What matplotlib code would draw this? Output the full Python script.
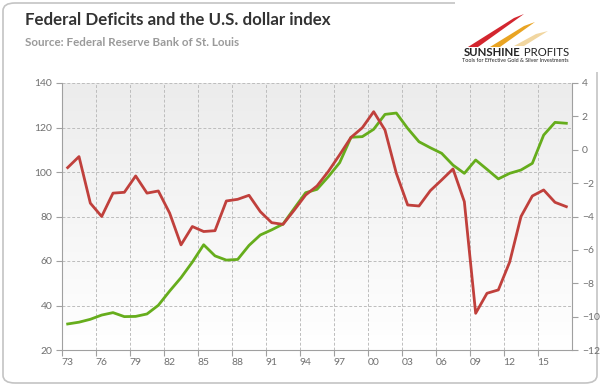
import numpy as np
import matplotlib
matplotlib.use("Agg")
import matplotlib.pyplot as plt
from matplotlib.patches import FancyBboxPatch, Polygon, Rectangle

plt.rcParams["font.family"] = ["Lato", "DejaVu Sans"]

# data
years = list(range(1973, 2018))
dollar_index = [31.7, 32.5, 33.8, 35.7, 36.8, 35.0, 35.1, 36.2, 40.1, 46.5,
                52.5, 59.5, 67.3, 62.3, 60.4, 60.7, 67.0, 71.7, 74.0, 76.6,
                83.7, 90.7, 92.2, 97.9, 104.2, 115.6, 115.9, 119.2, 125.9, 126.5,
                119.6, 113.6, 110.9, 108.4, 103.1, 99.4, 105.4, 101.2, 96.9, 99.4,
                100.9, 103.9, 116.6, 122.3, 121.9]
deficit = [-1.07, -0.41, -3.2, -4.0, -2.6, -2.55, -1.57, -2.6, -2.47, -3.8,
           -5.7, -4.6, -4.9, -4.85, -3.07, -2.97, -2.73, -3.71, -4.37, -4.47,
           -3.61, -2.71, -2.17, -1.3, -0.3, 0.74, 1.32, 2.28, 1.18, -1.41,
           -3.31, -3.37, -2.45, -1.81, -1.15, -3.11, -9.8, -8.6, -8.4, -6.73,
           -4.0, -2.77, -2.41, -3.15, -3.41]
left_ticks = [20, 40, 60, 80, 100, 120, 140]
right_ticks = [-12, -10, -8, -6, -4, -2, 0, 2, 4]

green = "#66ad1c"
red = "#c0403c"
axis_grey = "#a0a0a0"
label_grey = "#707070"

fig = plt.figure(figsize=(6, 3.86), dpi=100)

# rounded outer frame
fig.patches.append(FancyBboxPatch((3 / 600, 3 / 386), 594 / 600, 380 / 386,
                                  boxstyle="round,pad=0,rounding_size=0.02",
                                  transform=fig.transFigure, fc="white",
                                  ec="#c4c4c4", lw=1.2, zorder=-5))

# titles
fig.text(25 / 600, 1 - 20 / 386, "Federal Deficits and the U.S. dollar index",
         fontsize=12.2, fontweight="bold", color="#333333", va="center")
fig.text(25 / 600, 1 - 43 / 386, "Source: Federal Reserve Bank of St. Louis",
         fontsize=8.4, fontweight="bold", color="#9a9a9a", va="center")

# logo
fig.patches.append(Rectangle((455 / 600, 1 - 72 / 386), 143 / 600, 70 / 386,
                             transform=fig.transFigure, fc="white", ec="none", zorder=1))
swoosh = [([(468, 47), (514, 18), (524, 14), (478, 47)], "#d3262f"),
          ([(490, 47), (524, 26), (535, 22), (500, 47)], "#e9a423"),
          ([(514, 46), (536, 34), (548, 31), (524, 46)], "#f1d6a0")]
for pts, col in swoosh:
    fig.patches.append(Polygon([(x / 600, 1 - y / 386) for x, y in pts],
                               closed=True, transform=fig.transFigure,
                               fc=col, ec="none", zorder=2))
fig.text(521 / 600, 1 - 52 / 386, "SUNSHINE", fontsize=8.2, fontweight="bold",
         color="#222222", ha="right", va="center", zorder=3)
fig.text(521 / 600, 1 - 52 / 386, " PROFITS", fontsize=8.2, color="#222222",
         ha="left", va="center", zorder=3)
fig.text(515 / 600, 1 - 61 / 386, "Tools for Effective Gold & Silver Investments",
         fontsize=3.9, color="#222222", ha="center", va="center", zorder=3)

ax = fig.add_axes([62 / 600, 36 / 386, 510 / 600, 267 / 386])
ax2 = ax.twinx()

x = np.arange(len(years))

# gradient background
grad = np.linspace(0, 1, 256).reshape(-1, 1)
ax.imshow(grad, extent=(-0.5, len(years) - 0.5, 20, 140), aspect="auto",
          cmap=matplotlib.colors.LinearSegmentedColormap.from_list("bg", ["#ffffff", "#ececec"]),
          origin="lower", zorder=0)

ax.plot(x, dollar_index, color=green, lw=2.0, zorder=3, solid_joinstyle="round")
ax2.plot(x, deficit, color=red, lw=2.0, zorder=3, solid_joinstyle="round")

ax.set_xlim(-0.5, len(years) - 0.5)
ax.set_ylim(20, 140)
ax2.set_ylim(-12, 4)

# x axis: labels at category centers, ticks/grid at category boundaries
label_pos = x[::3]
ax.set_xticks(label_pos)
ax.set_xticklabels([f"{y % 100:02d}" for y in years[::3]])
ax.set_xticks(label_pos - 0.5, minor=True)
ax.tick_params(axis="x", which="major", length=0, pad=6, labelsize=7.5, labelcolor=label_grey)
ax.tick_params(axis="x", which="minor", length=4, color=axis_grey, width=0.8)
ax.grid(True, axis="x", which="minor", ls=(0, (3, 2)), color="#bdbdbd", lw=0.7)

ax.set_yticks(left_ticks)
ax.tick_params(axis="y", length=4, color=axis_grey, width=0.8, labelsize=7.5,
               labelcolor=label_grey, pad=3)
ax.grid(True, axis="y", ls=(0, (3, 2)), color="#bdbdbd", lw=0.7)
ax.set_axisbelow(True)

ax2.set_yticks(right_ticks)
ax2.tick_params(axis="y", length=4, color=axis_grey, width=0.8, labelsize=7.5,
                labelcolor=label_grey, pad=3)

for a in (ax, ax2):
    a.spines["top"].set_visible(False)
    for s in ("left", "right", "bottom"):
        a.spines[s].set_color(axis_grey)
        a.spines[s].set_linewidth(0.8)
ax.spines["right"].set_visible(False)
ax2.spines["left"].set_visible(False)
ax2.spines["bottom"].set_visible(False)

fig.savefig("out.png", dpi=100)
